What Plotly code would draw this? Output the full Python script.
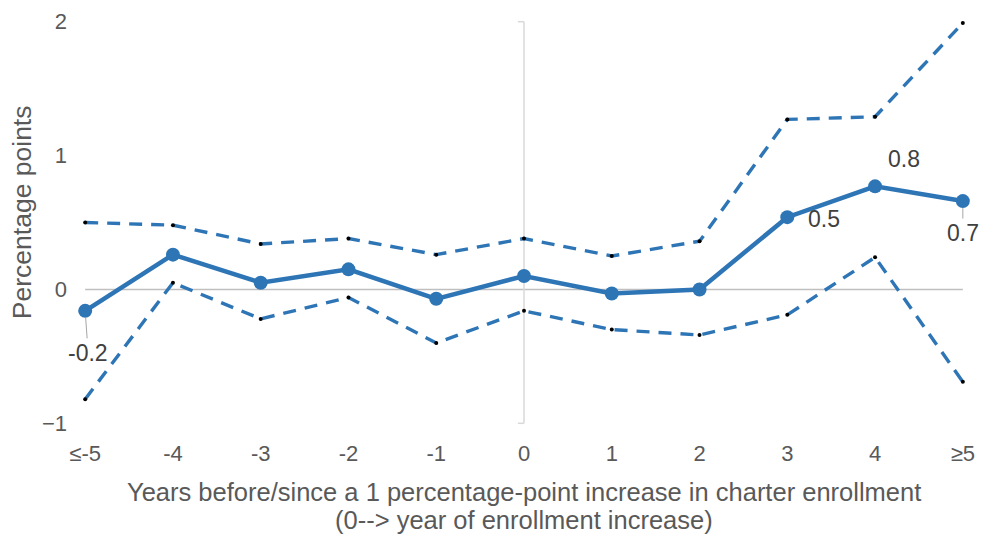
import plotly.graph_objects as go

# Event-study estimates with 95% confidence bounds
years = ["≤-5", "-4", "-3", "-2", "-1", "0", "1", "2", "3", "4", "≥5"]
estimate = [-0.16, 0.26, 0.05, 0.15, -0.07, 0.10, -0.03, 0.00, 0.54, 0.77, 0.66]
upper = [0.50, 0.48, 0.34, 0.38, 0.26, 0.38, 0.25, 0.36, 1.27, 1.29, 1.99]
lower = [-0.82, 0.05, -0.22, -0.06, -0.40, -0.16, -0.30, -0.34, -0.19, 0.24, -0.69]

# Which points carry a value label: index -> (label, x offset, y offset, leader line)
labels = {0: ("-0.2", 3, 42, True), 8: ("0.5", 37, 2, False),
          9: ("0.8", 29, -27, False), 10: ("0.7", 0, 32, True)}

x_title = ["Years before/since a 1 percentage-point increase in charter enrollment",
           "(0--> year of enrollment increase)"]
y_title = "Percentage points"

BLUE = "#2E75B6"
FONT = "Liberation Sans, Arial, sans-serif"
xi = list(range(len(years)))

fig = go.Figure()

for band in (upper, lower):
    fig.add_trace(go.Scatter(
        x=xi, y=band, mode="lines+markers",
        line=dict(color=BLUE, width=3.4, dash="13px,9px"),
        marker=dict(color="black", size=4),
        cliponaxis=False, hoverinfo="skip", showlegend=False))

fig.add_trace(go.Scatter(
    x=xi, y=estimate, mode="lines+markers",
    line=dict(color=BLUE, width=4.5),
    marker=dict(color=BLUE, size=14),
    cliponaxis=False, showlegend=False))

# Horizontal zero line and the vertical reference at year 0
fig.add_shape(type="line", xref="x", yref="y", x0=0, x1=10, y0=0, y1=0,
              line=dict(color="#BFBFBF", width=1.5), layer="below")
fig.add_shape(type="line", xref="x", yref="y", x0=5, x1=5, y0=-1, y1=2,
              line=dict(color="#D9D9D9", width=1.5), layer="below")
for yv in (-1, 2):
    fig.add_shape(type="line", xref="x", yref="y", x0=4.93, x1=5, y0=yv, y1=yv,
                  line=dict(color="#D9D9D9", width=1.5), layer="below")

for i, (txt, ax, ay, leader) in labels.items():
    if leader:
        fig.add_annotation(x=i, y=estimate[i], text=txt, showarrow=True,
                           arrowhead=0, arrowwidth=1, arrowcolor="#A6A6A6",
                           ax=ax, ay=ay, standoff=7,
                           font=dict(family=FONT, size=23, color="#404040"))
    else:
        fig.add_annotation(x=i, y=estimate[i], text=txt, showarrow=False,
                           xshift=ax, yshift=-ay,
                           font=dict(family=FONT, size=23, color="#404040"))

# Axis titles
fig.add_annotation(xref="paper", yref="paper", x=0.5, y=-0.149, yanchor="middle",
                   text=x_title[0], showarrow=False,
                   font=dict(family=FONT, size=25.5, color="#595959"))
fig.add_annotation(xref="paper", yref="paper", x=0.5, y=-0.217, yanchor="middle",
                   text=x_title[1], showarrow=False,
                   font=dict(family=FONT, size=25.5, color="#595959"))
fig.add_annotation(xref="paper", yref="paper", x=-0.0553, y=0.525, xanchor="center",
                   yanchor="middle", text=y_title, textangle=-90, showarrow=False,
                   font=dict(family=FONT, size=26.5, color="#595959"))

fig.update_layout(
    width=981, height=535,
    margin=dict(l=72, r=5, t=15, b=105),
    plot_bgcolor="white", paper_bgcolor="white",
    font=dict(family=FONT, color="#595959"),
    xaxis=dict(
        tickmode="array", tickvals=xi, ticktext=years,
        range=[-0.15, 10.15], showgrid=False, zeroline=False, showline=False,
        ticks="", ticklabelstandoff=8,
        tickfont=dict(size=22, color="#595959")),
    yaxis=dict(
        range=[-1.05, 2.05], tickvals=[-1, 0, 1, 2], showgrid=False,
        zeroline=False, showline=False, ticks="", ticklabelstandoff=4,
        tickfont=dict(size=22, color="#595959")),
)

fig.write_html("out.html")
